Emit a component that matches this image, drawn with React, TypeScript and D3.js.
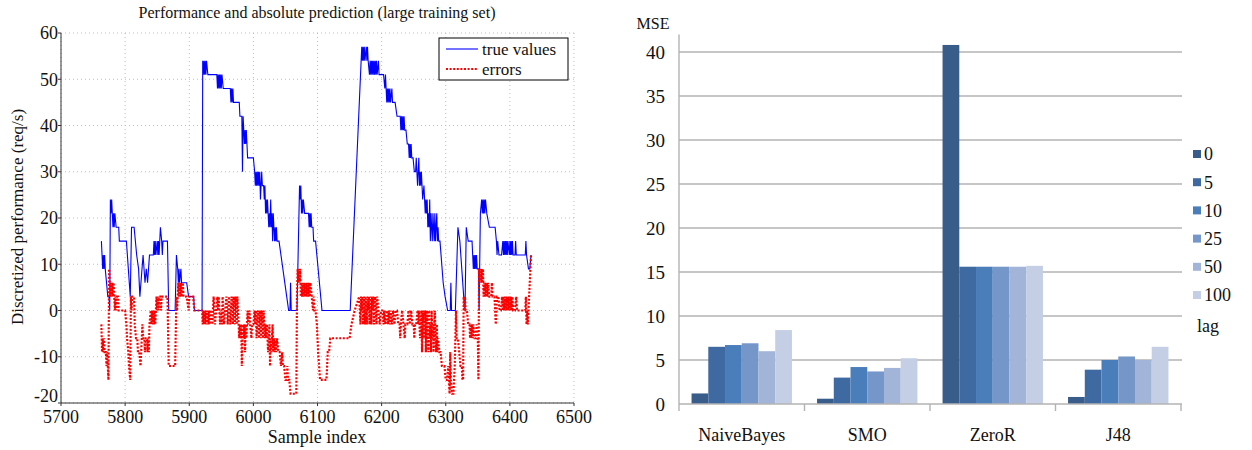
import React from 'react'
import * as d3 from 'd3'

// left panel: true values and prediction errors per sample
const trueValues: [number, number][] = [
  [5763,15],[5764,12],[5765,9],[5766,12],[5767,9],[5768,12],[5769,9],[5771,6],[5773,3],[5775,3],[5776,0],[5777,24],[5778,21],[5779,24],[5780,21],[5781,18],[5782,21],[5783,18],[5784,21],[5786,18],[5790,18],[5791,15],[5802,15],[5805,9],[5808,3],
  [5810,18],[5814,18],[5818,12],[5821,9],[5823,3],[5828,12],[5831,6],[5833,9],[5835,6],[5838,12],[5844,12],[5845,15],[5846,12],[5847,15],[5848,12],[5850,15],[5851,12],[5852,15],[5853,12],[5855,18],[5857,15],[5858,12],[5859,15],[5866,15],[5868,0],[5878,0],
  [5880,12],[5882,9],[5883,6],[5884,9],[5885,6],[5887,9],[5888,6],[5896,6],[5899,3],[5907,3],[5908,0],[5920,0],[5921,54],[5922,51],[5923,54],[5924,51],[5925,54],[5926,51],[5927,54],[5929,51],[5943,51],[5944,48],[5945,51],[5946,48],[5947,51],[5948,48],[5949,51],[5950,48],[5951,51],[5953,48],
  [5964,48],[5965,45],[5966,48],[5967,45],[5968,48],[5969,45],[5971,45],[5978,45],[5979,42],[5982,42],[5983,30],[5984,42],[5985,39],[5986,36],[5987,39],[5988,36],[5989,39],[5990,36],[5991,33],[6000,33],[6002,30],[6003,27],[6004,30],[6005,27],[6006,30],[6007,27],[6008,30],[6009,27],[6010,30],[6011,24],[6012,27],[6013,30],[6014,27],[6016,27],
  [6017,24],[6018,27],[6019,21],[6020,24],[6021,21],[6022,24],[6023,21],[6024,18],[6025,21],[6026,18],[6027,24],[6028,18],[6029,21],[6030,15],[6031,21],[6032,18],[6033,15],[6034,18],[6035,15],[6036,18],[6037,15],[6040,15],[6052,3],[6055,0],[6057,0],[6058,6],[6059,0],[6068,0],
  [6072,27],[6073,24],[6074,27],[6075,21],[6076,24],[6077,21],[6078,24],[6080,21],[6086,21],[6087,18],[6088,21],[6089,18],[6090,21],[6091,18],[6093,18],[6094,15],[6097,15],[6107,0],[6151,0],
  [6169,57],[6170,54],[6171,57],[6172,54],[6173,57],[6174,54],[6176,57],[6177,54],[6178,57],[6179,54],[6181,51],[6182,54],[6183,51],[6184,54],[6185,51],[6186,54],[6187,51],[6188,54],[6189,51],[6190,54],[6191,51],[6192,54],[6193,51],[6195,54],[6196,51],[6203,51],
  [6205,48],[6206,51],[6207,48],[6208,45],[6209,48],[6210,45],[6211,48],[6212,45],[6213,48],[6214,45],[6216,48],[6217,45],[6221,45],[6224,42],[6229,42],[6230,39],[6231,42],[6232,39],[6233,42],[6234,39],[6235,42],[6236,39],[6238,39],[6240,36],[6242,36],[6243,33],[6244,36],[6245,33],[6246,36],[6247,33],[6249,33],[6251,30],[6253,30],
  [6254,33],[6255,30],[6256,27],[6257,30],[6258,33],[6259,27],[6260,30],[6261,27],[6262,30],[6263,27],[6264,24],[6266,27],[6267,24],[6268,21],[6269,24],[6270,21],[6271,24],[6272,18],[6273,21],[6274,18],[6275,24],[6276,15],[6277,21],[6278,18],[6279,15],[6280,21],[6281,18],[6282,15],[6283,21],[6284,15],[6285,18],[6286,21],[6287,15],[6288,18],[6289,15],[6291,15],
  [6296,6],[6299,3],[6303,0],[6307,0],[6308,6],[6309,0],[6315,0],[6319,18],[6322,15],[6328,3],[6330,0],[6332,18],[6335,15],[6341,15],[6342,12],[6343,9],[6344,12],[6345,9],[6346,12],[6347,9],[6348,12],[6349,9],[6351,9],[6352,0],
  [6354,21],[6356,24],[6357,21],[6358,24],[6359,21],[6360,24],[6361,21],[6362,24],[6364,21],[6368,18],[6377,18],[6379,15],[6380,12],[6381,15],[6383,12],[6387,12],[6389,15],[6390,12],[6391,15],[6392,12],[6393,15],[6394,12],[6395,15],[6396,12],[6397,15],[6399,12],[6400,15],[6401,12],[6402,15],[6403,12],[6404,15],[6405,12],[6408,12],[6409,15],[6410,12],[6424,12],[6425,15],[6426,12],[6429,9],[6431,9],[6433,12]
]

const errors: [number, number][] = [
  [5763,-3],[5764,-9],[5765,-6],[5766,-9],[5767,-6],[5768,-9],[5770,-9],[5771,-12],[5772,-9],[5773,-12],[5774,-15],[5775,9],[5776,6],[5777,3],[5778,6],[5779,3],[5780,6],[5781,3],[5782,6],[5783,3],[5784,0],[5785,3],[5786,0],[5787,3],[5789,3],[5790,0],[5800,0],[5802,-3],[5803,-6],[5805,-9],[5806,-12],[5808,-15],
  [5809,3],[5810,0],[5811,3],[5814,3],[5815,-3],[5817,-6],[5819,-6],[5820,-9],[5822,-9],[5824,-12],[5825,-9],[5827,-3],[5828,-6],[5830,-6],[5831,-9],[5832,-6],[5834,-6],[5835,-9],[5836,-6],[5837,-9],[5838,-3],[5840,0],[5841,-3],[5842,0],[5843,-3],[5844,0],[5845,-3],[5846,0],[5847,-3],[5848,0],[5849,3],[5850,0],[5851,3],[5852,0],[5853,3],[5855,3],[5856,0],[5857,3],[5866,3],
  [5868,-12],[5878,-12],[5880,3],[5881,0],[5882,3],[5883,6],[5884,3],[5885,6],[5886,3],[5887,6],[5888,3],[5890,6],[5891,3],[5896,3],[5899,0],[5900,3],[5906,3],[5908,0],[5920,0],
  [5921,-3],[5922,0],[5923,-3],[5924,0],[5925,-3],[5926,0],[5927,-3],[5929,0],[5930,-3],[5931,0],[5932,-3],[5933,0],[5935,0],[5936,-3],[5937,0],[5938,3],[5939,0],[5940,-3],[5942,0],[5944,3],[5945,0],[5946,3],[5947,0],[5948,-3],[5949,0],[5951,-3],[5952,3],[5953,0],[5954,-3],[5956,0],[5958,3],[5959,0],[5960,-3],[5961,0],[5962,3],[5963,0],[5964,-3],
  [5966,3],[5967,0],[5968,-3],[5969,3],[5970,0],[5971,-3],[5972,3],[5973,0],[5974,-3],[5975,3],[5976,0],[5977,-3],[5978,-6],[5979,-3],[5980,-6],[5981,-3],[5982,-12],[5983,-6],[5984,-3],[5985,-6],[5986,-3],[5987,-9],[5988,-3],[5989,-6],[5990,-3],[5991,0],[5992,-3],[5994,0],[5995,-3],[5997,-6],[5998,-3],[6000,-3],
  [6002,0],[6003,-3],[6004,0],[6005,-6],[6006,-3],[6007,0],[6008,-3],[6009,-6],[6010,0],[6011,-3],[6012,-6],[6013,0],[6014,-3],[6015,-6],[6016,0],[6017,-3],[6018,-6],[6019,-3],[6020,-6],[6021,-3],[6022,-6],[6023,-9],[6024,-6],[6025,-3],[6026,-12],[6027,-6],[6028,-9],[6029,-6],[6030,-3],[6031,-9],[6032,-6],[6033,-9],[6034,-6],[6035,-9],[6037,-6],[6039,-9],
  [6041,-9],[6043,-12],[6045,-9],[6046,-12],[6048,-12],[6050,-15],[6052,-15],[6053,-12],[6054,-15],[6056,-15],[6058,-18],[6067,-18],[6068,3],[6069,9],[6070,6],[6071,9],[6072,6],[6073,9],[6074,3],[6075,6],[6076,3],[6077,6],[6078,3],[6079,6],[6080,3],[6081,6],[6082,3],[6083,6],[6084,3],[6085,6],[6086,3],[6087,6],[6088,3],[6089,6],[6091,3],[6093,0],[6094,3],[6095,0],[6097,0],
  [6099,-3],[6101,-9],[6104,-15],[6114,-15],[6116,-9],[6118,-9],[6120,-6],[6125,-6],[6150,-6],[6153,-3],[6158,0],[6165,3],[6166,0],[6167,-3],[6168,3],[6169,0],[6170,3],[6171,-3],[6172,0],[6173,3],[6174,-3],[6175,3],[6176,0],[6177,-3],[6178,3],[6179,0],[6180,3],[6181,-3],[6182,0],[6183,3],[6184,-3],[6185,3],[6186,0],[6187,3],[6188,-3],[6190,3],[6191,0],[6192,-3],[6193,3],[6195,0],[6197,-3],[6199,0],
  [6201,0],[6203,-3],[6204,0],[6206,-3],[6208,0],[6210,-3],[6211,0],[6213,-3],[6214,0],[6216,-3],[6218,0],[6220,-3],[6222,0],[6224,0],[6226,-3],[6228,-3],[6229,-6],[6230,-3],[6232,0],[6234,-3],[6236,-6],[6237,-3],[6240,-3],[6242,0],[6244,-3],[6246,0],[6248,-3],[6250,-3],[6251,-6],[6252,-3],[6254,-3],[6256,0],[6257,-3],[6258,0],[6259,-3],[6260,-6],[6261,-3],[6262,0],
  [6263,-9],[6264,-3],[6265,0],[6266,-6],[6267,-3],[6268,0],[6269,-9],[6270,-3],[6271,0],[6272,-6],[6273,-9],[6274,0],[6275,-6],[6276,-3],[6277,-9],[6278,0],[6279,-6],[6280,-3],[6281,-9],[6282,-3],[6283,0],[6284,-6],[6285,-9],[6286,-3],[6287,-9],[6288,-6],[6290,-9],[6292,-9],[6294,-12],[6298,-12],[6300,-15],[6302,-15],[6304,-12],[6305,-15],[6306,-18],[6307,-9],[6308,-15],[6310,-18],[6312,-18],[6314,-12],
  [6316,0],[6317,-6],[6319,-6],[6321,-9],[6323,-12],[6325,-12],[6326,-15],[6327,-15],[6328,3],[6329,0],[6330,3],[6331,0],[6333,0],[6335,-3],[6337,-3],[6338,-6],[6339,-3],[6340,-6],[6341,-3],[6342,-6],[6343,-3],[6345,-6],[6347,-6],[6348,-3],[6350,-6],[6351,-15],
  [6352,9],[6353,6],[6354,9],[6355,6],[6356,9],[6357,6],[6358,9],[6359,3],[6360,6],[6361,3],[6362,6],[6363,3],[6364,6],[6365,3],[6366,6],[6368,3],[6371,3],[6372,6],[6373,3],[6376,3],[6378,-3],[6379,0],[6380,3],[6382,3],[6384,0],[6386,0],[6388,3],[6389,0],[6390,3],[6391,0],[6392,3],[6393,0],[6394,3],[6395,0],[6396,3],[6397,0],[6398,3],[6399,0],
  [6400,3],[6401,0],[6402,3],[6403,0],[6404,3],[6405,0],[6408,0],[6410,3],[6411,0],[6424,0],[6425,3],[6426,-3],[6427,0],[6428,-3],[6429,0],[6431,6],[6433,12]
]

const xTicks = [5700, 5800, 5900, 6000, 6100, 6200, 6300, 6400, 6500]
const yTicks = [-20, -10, 0, 10, 20, 30, 40, 50, 60]

// right panel: MSE per classifier and lag
const classifiers = ['NaiveBayes', 'SMO', 'ZeroR', 'J48']
const lags = ['0', '5', '10', '25', '50', '100']
const mse: number[][] = [
  [1.2, 6.5, 6.7, 6.9, 6.0, 8.4],
  [0.6, 3.0, 4.2, 3.7, 4.1, 5.2],
  [40.8, 15.6, 15.6, 15.6, 15.6, 15.7],
  [0.8, 3.9, 5.0, 5.4, 5.0, 6.5]
]
const mseTicks = [0, 5, 10, 15, 20, 25, 30, 35, 40]
const lagColors = ['#385d8a', '#3f6aa1', '#4a7ebb', '#7596c9', '#a2b5d8', '#c4cfe5']

const serif = "'Liberation Serif', serif"

const LinePanel = () => {
  const x = d3.scaleLinear().domain([5700, 6500]).range([61, 574])
  const y = d3.scaleLinear().domain([-20, 60]).range([403, 33])
  const line = d3.line<[number, number]>()
    .x(d => x(d[0]))
    .y(d => y(d[1]))

  return (
    <g fill="#111">
      {xTicks.map(t => (
        <line key={'gx' + t} x1={x(t)} x2={x(t)} y1={y(60)} y2={y(-20)}
          stroke="#bdbdbd" strokeDasharray="1 3" />
      ))}
      {yTicks.map(t => (
        <line key={'gy' + t} x1={x(5700)} x2={x(6500)} y1={y(t)} y2={y(t)}
          stroke="#bdbdbd" strokeDasharray="1 3" />
      ))}
      <path d={line(trueValues) || ''} fill="none" stroke="#0000ff" strokeWidth={1.1} />
      <path d={line(errors) || ''} fill="none" stroke="#ff0000" strokeWidth={2.2} strokeDasharray="2 1.6" />

      <line x1={x(5700)} x2={x(5700)} y1={y(60)} y2={y(-20)} stroke="#333" />
      <line x1={x(5700)} x2={x(6500)} y1={y(-20)} y2={y(-20)} stroke="#333" />
      {yTicks.map(t => (
        <g key={'ty' + t}>
          <line x1={x(5700) - 3} x2={x(5700)} y1={y(t)} y2={y(t)} stroke="#333" />
          <text x={x(5700) - 3} y={t === -20 ? y(t) - 7 : y(t)} dy="0.35em" textAnchor="end" fontSize={18}>{t}</text>
        </g>
      ))}
      {xTicks.map(t => (
        <g key={'tx' + t}>
          <line x1={x(t)} x2={x(t)} y1={y(-20)} y2={y(-20) + 3} stroke="#333" />
          <text x={x(t)} y={423} textAnchor="middle" fontSize={18}>{t}</text>
        </g>
      ))}

      <text x={317} y={18} textAnchor="middle" fontSize={16}>
        Performance and absolute prediction (large training set)
      </text>
      <text x={317} y={443} textAnchor="middle" fontSize={18}>Sample index</text>
      <text transform="translate(23,217) rotate(-90)" textAnchor="middle" fontSize={17}>
        Discretized performance (req/s)
      </text>

      <rect x={439} y={38} width={129} height={42} fill="#fff" stroke="#000" />
      <line x1={446} x2={478} y1={49} y2={49} stroke="#0000ff" strokeWidth={1.1} />
      <text x={482} y={55} fontSize={17}>true values</text>
      <line x1={446} x2={478} y1={69} y2={69} stroke="#ff0000" strokeWidth={2.2} strokeDasharray="2 1.6" />
      <text x={482} y={75} fontSize={17}>errors</text>
    </g>
  )
}

const BarPanel = () => {
  const x0 = d3.scaleBand().domain(classifiers).range([679, 1181])
  const x1 = d3.scaleBand().domain(lags)
    .range([x0.bandwidth() * 0.1, x0.bandwidth() * 0.9])
  const y = d3.scaleLinear().domain([0, 42]).range([404, 34.4])

  return (
    <g fill="#111">
      {mseTicks.filter(t => t > 0).map(t => (
        <line key={'g' + t} x1={679} x2={1182} y1={y(t)} y2={y(t)} stroke="#b3b3b3" strokeWidth={1.4} />
      ))}
      {classifiers.map((c, i) => (
        <g key={c} transform={`translate(${x0(c)},0)`}>
          {lags.map((l, j) => (
            <rect key={l} x={x1(l)} width={x1.bandwidth()} y={y(mse[i][j])}
              height={y(0) - y(mse[i][j])} fill={lagColors[j]} />
          ))}
        </g>
      ))}
      <line x1={679} x2={679} y1={y(42)} y2={y(0)} stroke="#b3b3b3" strokeWidth={1.4} />
      <line x1={679} x2={1182} y1={y(0)} y2={y(0)} stroke="#b3b3b3" strokeWidth={1.4} />
      {[...classifiers.map(c => x0(c) as number), 1181].map((v, i) => (
        <line key={'t' + i} x1={v} x2={v} y1={y(0)} y2={y(0) + 7} stroke="#b3b3b3" strokeWidth={1.4} />
      ))}
      {mseTicks.map(t => (
        <text key={'l' + t} x={665} y={y(t)} dy="0.35em" textAnchor="end" fontSize={19}>{t}</text>
      ))}
      {classifiers.map(c => (
        <text key={'c' + c} x={(x0(c) as number) + x0.bandwidth() / 2} y={441}
          textAnchor="middle" fontSize={18}>{c}</text>
      ))}
      <text x={653} y={29} textAnchor="middle" fontSize={16}>MSE</text>

      {lags.map((l, j) => (
        <g key={'lg' + l} transform={`translate(1193,${154 + j * 28.2})`}>
          <rect x={0} y={-4} width={8} height={8} fill={lagColors[j]} />
          <text x={11} y={0} dy="0.35em" fontSize={18}>{l}</text>
        </g>
      ))}
      <text x={1197} y={332} fontSize={18}>lag</text>
    </g>
  )
}

const App = () => {
  return (
    <div>
      <style>{'body{margin:0}'}</style>
      <svg width={1252} height={450} style={{ display: 'block', background: '#fff', fontFamily: serif }}>
        <LinePanel />
        <BarPanel />
      </svg>
    </div>
  )
}

export default App
